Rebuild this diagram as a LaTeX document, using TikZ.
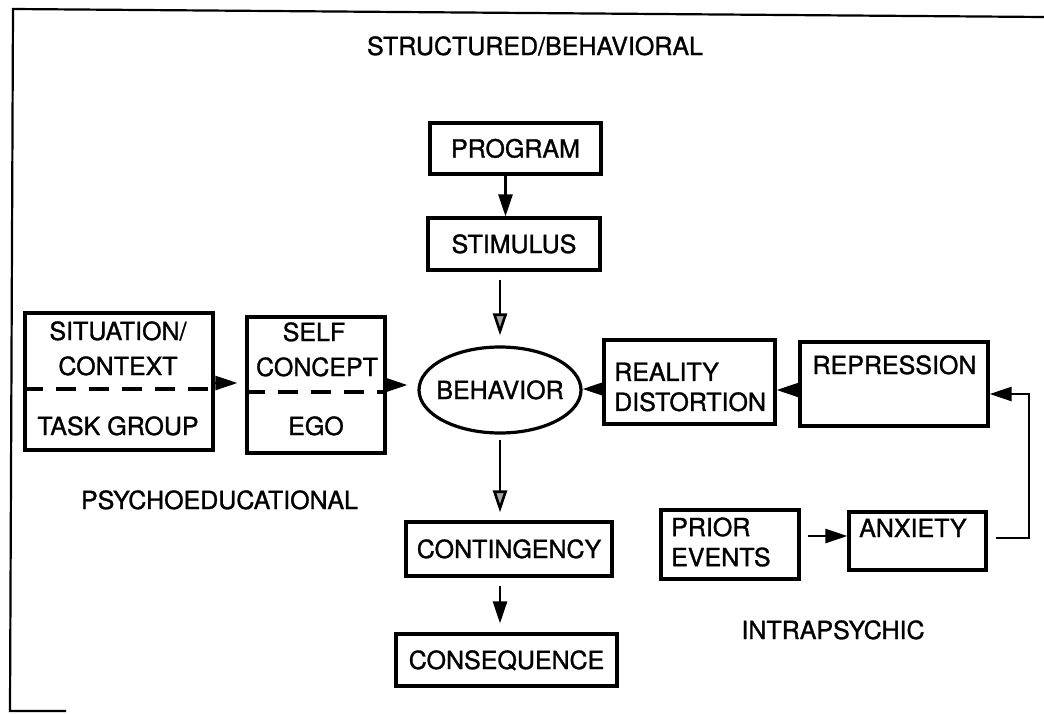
\documentclass[tikz,border=0pt]{standalone}
\usepackage{fontspec}
\setmainfont{TeX Gyre Heros}[FakeBold=1.2]
\usetikzlibrary{arrows.meta,shapes.geometric}
\begin{document}
\begin{tikzpicture}[x=1pt,y=-1pt,
  lbl/.style={font=\fontsize{25}{30}\selectfont, inner sep=0pt, text height=18pt, text depth=0pt},
  mlbl/.style={font=\fontsize{25}{30}\selectfont, inner sep=0pt, align=left},
  box/.style={draw, line width=3.2pt, inner sep=0pt, font=\fontsize{25}{30}\selectfont, text height=18pt, text depth=0pt},
  ellbox/.style={draw, ellipse, line width=3.2pt, inner sep=0pt},
  arr/.style={line width=2.6pt, -{Triangle[length=22pt,width=14pt]}},
  garr/.style={line width=2.6pt, -{Triangle[length=22pt,width=14pt,fill=black!35]}},
  divider/.style={line width=3.2pt, dash pattern=on 20pt off 13pt},
  frameline/.style={line width=2.2pt}]
\useasboundingbox (0,0) rectangle (1044,713);

% frame
\coordinate (f1) at (66,711);
\coordinate (f2) at (10,711);
\coordinate (f3) at (13,9);
\coordinate (f4) at (1044,17);
\draw[frameline] (f1) -- (f2) -- (f3) -- (f4);

% labels
\node[lbl] (title) at (535,46) {STRUCTURED/BEHAVIORAL};
\node[lbl] (psy) at (219.5,500) {PSYCHOEDUCATIONAL};
\node[lbl] (intra) at (833,630) {INTRAPSYCHIC};

% top column
\node[box, minimum width=171pt, minimum height=51pt] (prog) at (515.5,148.5) {PROGRAM};
\node[box, minimum width=172pt, minimum height=52pt] (stim) at (514,244) {STIMULUS};

% left split boxes
\node[box, minimum width=188pt, minimum height=137pt] (sit) at (119,381.5) {};
\node[lbl] (sit1) at (118,331) {SITUATION/};
\node[lbl] (sit2) at (118,366) {CONTEXT};
\node[lbl] (sit3) at (118,426) {TASK GROUP};
\coordinate (sitdash) at (0,389);
\draw[divider] (sit.west |- sitdash) -- (sit.east |- sitdash);

\node[box, minimum width=138pt, minimum height=136pt] (self) at (316,385) {};
\node[lbl] (self1) at (314,332) {SELF};
\node[lbl] (self2) at (317,367) {CONCEPT};
\node[lbl] (self3) at (316,426) {EGO};
\coordinate (selfdash) at (0,392);
\draw[divider] (self.west |- selfdash) -- (self.east |- selfdash);

% behavior
\node[ellbox, minimum width=162pt, minimum height=86pt] (beh) at (500,390) {};
\node[lbl] (behtxt) at (beh.center) {BEHAVIOR};

% right boxes
\node[box, minimum width=171pt, minimum height=84pt] (rd) at (689.5,382) {};
\node[mlbl, anchor=west] (rdt) at (614,387) {REALITY\\DISTORTION};
\node[box, minimum width=188pt, minimum height=84pt] (rep) at (894,384) {};
\node[lbl] (rept) at (894.5,365) {REPRESSION};

% bottom column
\node[box, minimum width=206pt, minimum height=54pt] (cont) at (509,549) {CONTINGENCY};
\node[box, minimum width=221pt, minimum height=52pt] (cons) at (506.5,660) {CONSEQUENCE};

% intrapsychic boxes
\node[box, minimum width=138pt, minimum height=69pt] (prior) at (730,544.5) {};
\node[mlbl, anchor=west] (priort) at (671,542) {PRIOR\\EVENTS};
\node[box, minimum width=137pt, minimum height=58pt] (anx) at (917.5,541) {};
\node[lbl, anchor=west] (anxt) at (859,528) {ANXIETY};

% connectors
\coordinate (pa) at ([xshift=-10pt]prog.south);
\draw[arr] (pa) -- (pa |- stim.north);
\draw[garr, shorten <=8pt, shorten >=10pt] (stim.south -| beh.north) -- (beh.north);
\draw[garr, shorten <=5pt, shorten >=8pt] (beh.south) -- (beh.south |- cont.north);
\draw[arr, shorten <=8pt, shorten >=9pt] (cont.south -| beh.south) -- (beh.south |- cons.north);

\coordinate (h1) at (0,383);
\draw[arr, shorten >=8pt] (sit.east |- h1) -- (self.west |- h1);
\coordinate (h2) at (0,385);
\draw[arr, shorten >=10pt] (self.east |- h2) -- (beh.west |- h2);
\coordinate (h3) at (0,389);
\draw[arr] (rd.west |- h3) -- (beh.east |- h3);
\coordinate (h4) at (0,390);
\draw[arr] (rep.west |- h4) -- (rd.east |- h4);
\coordinate (h5) at (0,536);
\draw[arr, shorten <=7pt] (prior.east |- h5) -- (anx.west |- h5);
\coordinate (h6) at (1029,538);
\coordinate (h7) at (1029,394);
\draw[arr, shorten <=8pt] (anx.east |- h6) -- (h6) -- (h7) -- (rep.east |- h7);
\end{tikzpicture}
\end{document}
